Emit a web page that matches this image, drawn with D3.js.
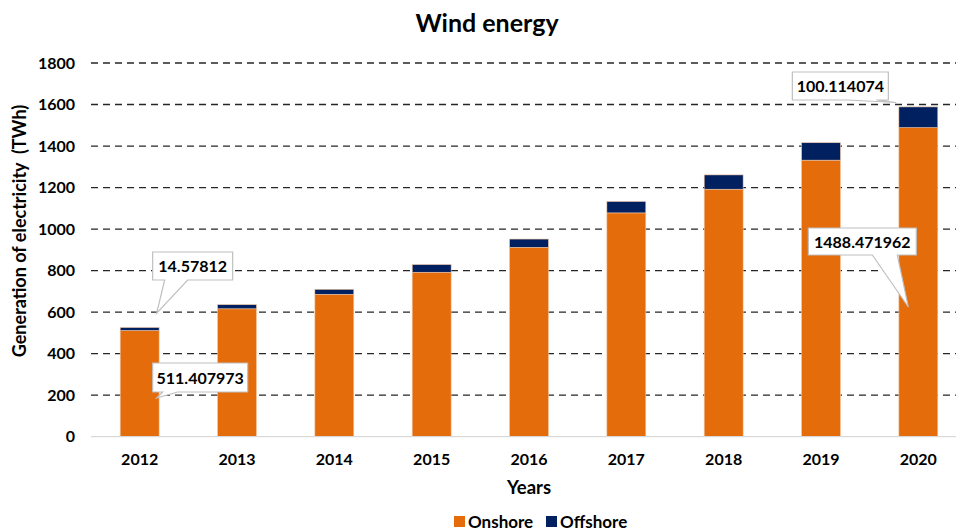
<!DOCTYPE html>
<html>
<head>
<meta charset="utf-8">
<script src="https://cdn.jsdelivr.net/npm/d3@7/dist/d3.min.js"></script>
<style>
  html, body { margin: 0; padding: 0; background: #fff; }
  svg { display: block; font-family: Lato, "Open Sans", sans-serif; }
</style>
</head>
<body>
<svg id="chart" width="956" height="531"></svg>
<script>
// Wind electricity generation by year, split into onshore and offshore (TWh)
const years = ["2012", "2013", "2014", "2015", "2016", "2017", "2018", "2019", "2020"];
const onshore = [511.407973, 616, 686, 792, 912, 1078, 1192, 1332, 1488.471962];
const offshore = [14.57812, 20, 24, 37, 40, 55, 69, 84, 100.114074];
const seriesNames = ["Onshore", "Offshore"];
const seriesColors = ["#E46C0A", "#002060"];
const yTicks = [0, 200, 400, 600, 800, 1000, 1200, 1400, 1600, 1800];

const svg = d3.select("#chart");
const W = 956, H = 531;
const plot = { left: 91, right: 967, top: 63, bottom: 436.7 };

const x = d3.scaleBand().domain(years).range([plot.left, plot.right])
  .paddingInner(0.6).paddingOuter(0.3);
const y = d3.scaleLinear().domain([0, 1800]).range([plot.bottom, plot.top]);

// Stacked layout
const rows = years.map((yr, i) => ({ year: yr, Onshore: onshore[i], Offshore: offshore[i] }));
const stacked = d3.stack().keys(seriesNames)(rows);

// Title
svg.append("text").attr("x", 487).attr("y", 32).attr("text-anchor", "middle")
  .attr("font-size", 25).attr("font-weight", "bold").attr("fill", "#000")
  .text("Wind energy");

// Dashed gridlines
const grid = svg.append("g");
grid.selectAll("line").data(yTicks.filter(d => d > 0)).join("line")
  .attr("x1", plot.left).attr("x2", W)
  .attr("y1", d => y(d)).attr("y2", d => y(d))
  .attr("stroke", "#262626").attr("stroke-width", 1.3)
  .attr("stroke-dasharray", "7,5");

// Y axis (labels only)
const yAxis = svg.append("g").attr("transform", `translate(${plot.left},0)`)
  .call(d3.axisLeft(y).tickValues(yTicks).tickFormat(d3.format("d")).tickSize(0).tickPadding(16));
yAxis.select(".domain").remove();
yAxis.selectAll("text").attr("font-size", 16).attr("font-weight", "bold")
  .attr("fill", "#000").attr("font-family", "Lato, sans-serif");

// Bars
svg.append("g").selectAll("g").data(stacked).join("g")
  .attr("fill", (d, i) => seriesColors[i])
  .selectAll("rect").data(d => d).join("rect")
  .attr("x", d => x(d.data.year))
  .attr("width", x.bandwidth())
  .attr("y", d => y(d[1]))
  .attr("height", d => y(d[0]) - y(d[1]))
  .attr("stroke", "#f4c7a3").attr("stroke-width", 0.6);

// X axis baseline + labels
const xAxis = svg.append("g").attr("transform", `translate(0,${plot.bottom})`)
  .call(d3.axisBottom(x).tickSize(0).tickPadding(17));
xAxis.select(".domain").attr("stroke", "#d9d9d9").attr("stroke-width", 1.2)
  .attr("d", `M${plot.left},0H${W}`);
xAxis.selectAll("text").attr("font-size", 16).attr("font-weight", "bold")
  .attr("fill", "#000").attr("font-family", "Lato, sans-serif");

// Axis titles
svg.append("text").attr("x", 529).attr("y", 494).attr("text-anchor", "middle")
  .attr("font-size", 18.5).attr("font-weight", "bold").text("Years");
svg.append("text")
  .attr("transform", "translate(26,231) rotate(-90)")
  .attr("text-anchor", "middle").attr("font-size", 18).attr("font-weight", "bold")
  .style("white-space", "pre")
  .text("Generation of electricity  (TWh)");

// Legend
const legend = svg.append("g").attr("transform", "translate(454,516)");
const legendItems = [{ name: seriesNames[0], color: seriesColors[0], dx: 0 },
                     { name: seriesNames[1], color: seriesColors[1], dx: 92 }];
legendItems.forEach(it => {
  legend.append("rect").attr("x", it.dx).attr("y", 0).attr("width", 11).attr("height", 11)
    .attr("fill", it.color);
  legend.append("text").attr("x", it.dx + 14).attr("y", 12)
    .attr("font-size", 17).attr("font-weight", "bold").text(it.name);
});

// Value callouts: box, label and a wedge pointing toward the bar
function callout(text, box, tip, base) {
  const g = svg.append("g");
  const [bx, by, bw, bh] = box;
  g.append("path")
    .attr("d", `M${bx},${by}H${bx + bw}V${by + bh}H${base[1]}L${tip[0]},${tip[1]}L${base[0]},${by + bh}H${bx}Z`)
    .attr("fill", "#fff").attr("stroke", "#bfbfbf").attr("stroke-width", 1.2);
  g.append("text").attr("x", bx + bw / 2).attr("y", by + bh / 2 + 6)
    .attr("text-anchor", "middle").attr("font-size", 16).attr("font-weight", "bold")
    .text(text);
}
const cx = yr => x(yr) + x.bandwidth() / 2;
const first = years[0], last = years[years.length - 1];

callout(String(offshore[0]), [cx(first) + 13, 252, 80, 28],
  [cx(first) + 17, y(600) + 1], [cx(first) + 25, cx(first) + 48]);
callout(String(onshore[0]), [cx(first) + 13, 363, 95, 29],
  [cx(first) + 17, 398], [cx(first) + 23, cx(first) + 38]);
callout(String(offshore[8]), [cx(last) - 126, 72, 96, 28],
  [cx(last) - 22, y(1600) - 2], [cx(last) - 71, cx(last) - 42]);
callout(String(onshore[8]), [cx(last) - 110, 228, 108, 27],
  [cx(last) - 10, 307], [cx(last) - 46, cx(last) - 21]);
</script>
</body>
</html>
